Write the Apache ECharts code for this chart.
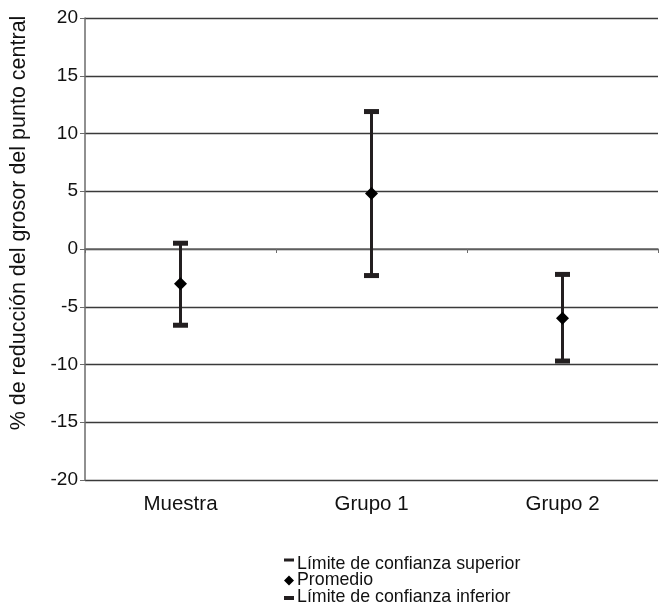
<!DOCTYPE html>
<html>
<head>
<meta charset="utf-8">
<script src="https://cdn.jsdelivr.net/npm/echarts@6/dist/echarts.min.js"></script>
<style>
html,body{margin:0;padding:0;background:#fff;}
#chart{width:662px;height:612px;}
</style>
</head>
<body>
<div id="chart"></div>
<script>
var categories = ['Muestra', 'Grupo 1', 'Grupo 2'];
var upperLimit = [0.5, 11.9, -2.2];
var meanValues = [-3.0, 4.8, -6.0];
var lowerLimit = [-6.6, -2.3, -9.7];
var yTicks = { min: -20, max: 20, interval: 5 };
var yAxisTitle = '% de reducción del grosor del punto central';
var seriesNames = ['Límite de confianza superior', 'Promedio', 'Límite de confianza inferior'];

var ink = '#231f20';
var font = 'Liberation Sans, Arial, Helvetica, sans-serif';

var rangeData = categories.map(function (c, i) { return [i, lowerLimit[i], upperLimit[i]]; });

var chart = echarts.init(document.getElementById('chart'), null, { renderer: 'canvas' });
chart.setOption({
  backgroundColor: '#ffffff',
  animation: false,
  grid: { left: 83, right: 4, top: 18, bottom: 132, containLabel: false },
  xAxis: {
    type: 'category',
    data: categories,
    boundaryGap: true,
    axisLine: { lineStyle: { color: '#6b6b6b', width: 1.5 } },
    axisTick: { show: true, length: 4, lineStyle: { color: '#6b6b6b', width: 1 } },
    axisLabel: { color: '#111', fontFamily: font, fontSize: 20.5, margin: 14 },
    splitLine: { show: false }
  },
  yAxis: {
    type: 'value',
    min: yTicks.min, max: yTicks.max, interval: yTicks.interval,
    name: yAxisTitle,
    nameLocation: 'middle',
    nameGap: 55,
    nameRotate: 90,
    nameTextStyle: { color: '#111', fontFamily: font, fontSize: 21.5, padding: [0, 0, 0, 52] },
    axisLine: { show: true, lineStyle: { color: '#6b6b6b', width: 1.5 } },
    axisTick: { show: true, length: 5, lineStyle: { color: '#6b6b6b', width: 1 } },
    axisLabel: { color: '#111', fontFamily: font, fontSize: 19, margin: 7 },
    splitLine: { show: true, lineStyle: { color: '#3a3a3a', width: 1.3 } }
  },
  legend: {
    orient: 'vertical',
    left: 279,
    top: 550,
    height: 70,
    itemWidth: 10,
    itemHeight: 12,
    itemGap: -1.5,
    textStyle: { color: '#111', fontFamily: font, fontSize: 17.8, lineHeight: 16, padding: [0, 0, 0, -2] },
    data: [
      { name: seriesNames[0], icon: 'path://M0,1H10V4H0Z M0,12L0.01,12' },
      { name: seriesNames[1], icon: 'path://M5,1L10,6L5,11L0,6Z M0,0L0.01,0 M0,12L0.01,12' },
      { name: seriesNames[2], icon: 'path://M0,5H10V9H0Z M0,0L0.01,0 M0,12L0.01,12' }
    ]
  },
  series: [
    {
      type: 'custom',
      name: 'rango',
      silent: true,
      z: 1,
      data: rangeData,
      renderItem: function (params, api) {
        var x = api.value(0);
        var lo = api.coord([x, api.value(1)]);
        var hi = api.coord([x, api.value(2)]);
        return {
          type: 'line',
          shape: { x1: lo[0], y1: lo[1], x2: hi[0], y2: hi[1] },
          style: { stroke: ink, lineWidth: 3 }
        };
      }
    },
    {
      type: 'scatter',
      name: seriesNames[0],
      z: 3,
      data: upperLimit,
      symbol: 'rect',
      symbolSize: [15, 5],
      itemStyle: { color: ink, opacity: 1 }
    },
    {
      type: 'scatter',
      name: seriesNames[1],
      z: 4,
      data: meanValues,
      symbol: 'diamond',
      symbolSize: [13, 13],
      itemStyle: { color: '#000', opacity: 1 }
    },
    {
      type: 'scatter',
      name: seriesNames[2],
      z: 3,
      data: lowerLimit,
      symbol: 'rect',
      symbolSize: [15, 5],
      itemStyle: { color: ink, opacity: 1 }
    }
  ]
});
</script>
</body>
</html>
